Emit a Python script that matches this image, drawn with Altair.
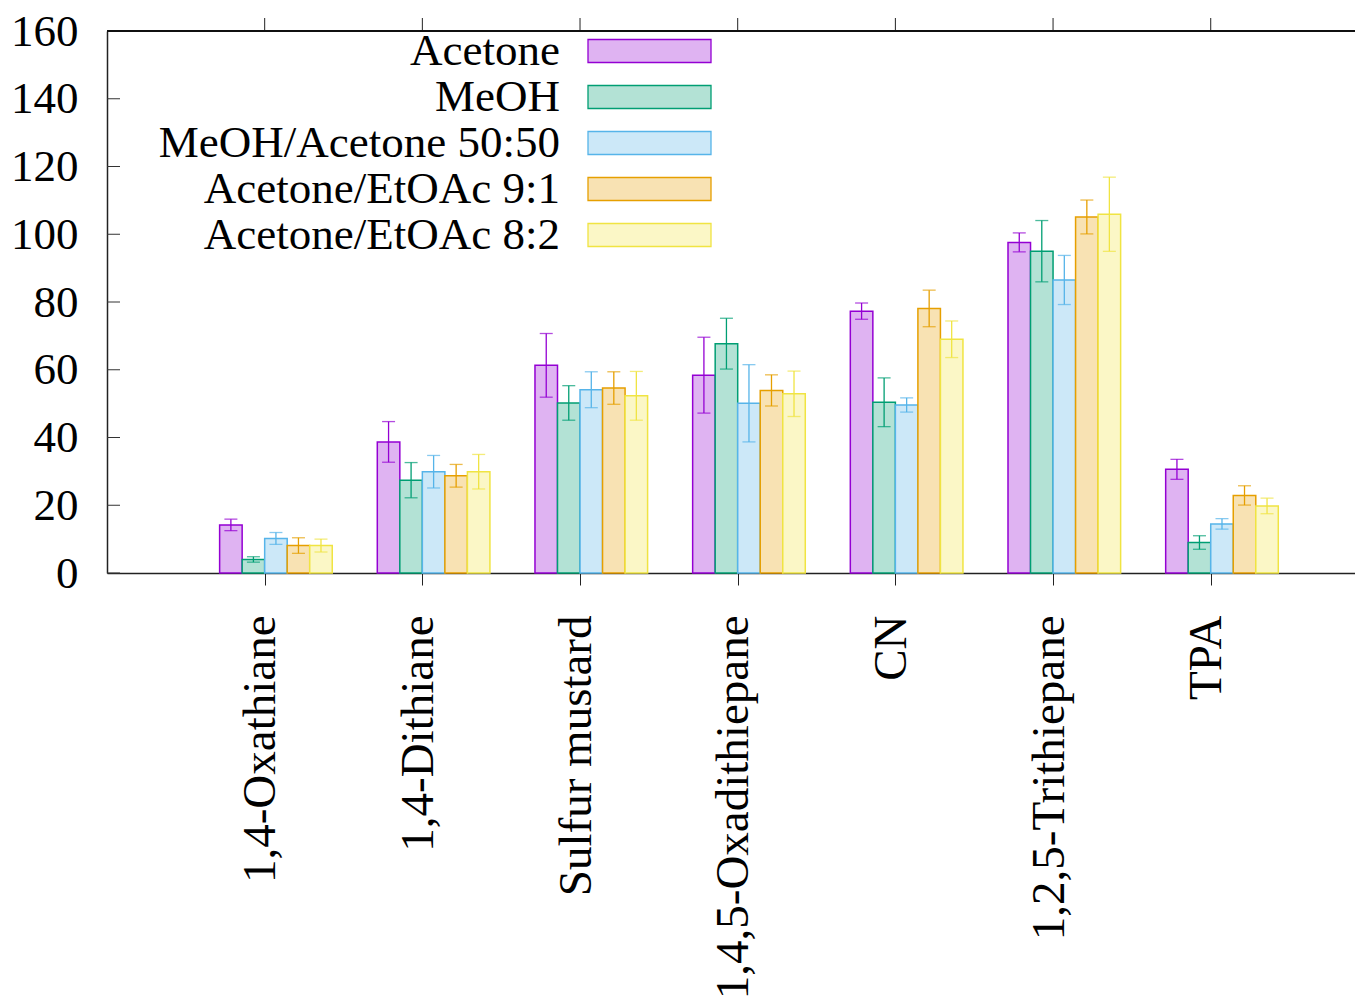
import json
import altair as alt
import pandas as pd

compounds = ["1,4-Oxathiane", "1,4-Dithiane", "Sulfur mustard", "1,4,5-Oxadithiepane",
             "CN", "1,2,5-Trithiepane", "TPA"]
series = ["Acetone", "MeOH", "MeOH/Acetone 50:50", "Acetone/EtOAc 9:1", "Acetone/EtOAc 8:2"]

acetone = [14.2, 38.7, 61.3, 58.4, 77.3, 97.6, 30.6]
acetone_err = [1.7, 6.0, 9.4, 11.2, 2.4, 2.8, 2.95]
meoh = [4.0, 27.4, 50.2, 67.7, 50.4, 95.0, 9.0]
meoh_err = [0.8, 5.2, 5.1, 7.5, 7.2, 9.05, 2.0]
blend = [10.2, 29.9, 54.1, 50.1, 49.6, 86.5, 14.5]
blend_err = [1.75, 4.8, 5.3, 11.4, 2.1, 7.25, 1.55]
ea91 = [8.1, 28.7, 54.6, 53.9, 78.1, 105.1, 22.9]
ea91_err = [2.3, 3.35, 4.8, 4.6, 5.4, 5.0, 2.85]
ea82 = [8.1, 29.9, 52.3, 52.9, 69.0, 105.9, 19.8]
ea82_err = [1.9, 5.1, 7.2, 6.7, 5.4, 10.95, 2.3]

y_ticks = [0, 20, 40, 60, 80, 100, 120, 140, 160]

strokes = ["#9400d3", "#009e73", "#56b4e9", "#e69f00", "#f0e442"]
fills = ["#dfb3f2", "#b3e2d5", "#cce8f8", "#f8e2b3", "#fbf7c6"]

FONT = "Liberation Serif"
FS_Y = 45
FS_X = 47
FS_LEG = 45
W, H = 1248, 542
BAR_W = 1 / 7

values = [acetone, meoh, blend, ea91, ea82]
errors = [acetone_err, meoh_err, blend_err, ea91_err, ea82_err]
rows = []
for k, s in enumerate(series):
    for i, c in enumerate(compounds):
        rows.append({"compound": c, "idx": i, "series": s, "k": k,
                     "value": values[k][i], "err": errors[k][i]})
df = pd.DataFrame(rows)

xscale = alt.Scale(domain=[-1, 6.915], nice=False, zero=False)
yscale = alt.Scale(domain=[0, 160], nice=False)
fill_enc = alt.Fill("series:N", scale=alt.Scale(domain=series, range=fills), legend=None)
stroke_enc = alt.Stroke("series:N", scale=alt.Scale(domain=series, range=strokes), legend=None)

base = alt.Chart(df).transform_calculate(
    x0=f"datum.idx + (datum.k - 2) * {BAR_W}",
    x1=f"datum.idx + (datum.k - 1) * {BAR_W}",
    xc=f"datum.idx + (datum.k - 1.5) * {BAR_W}",
    lo="datum.value - datum.err",
    hi="datum.value + datum.err",
    zero="0",
)

label_expr = f"{json.dumps(compounds)}[datum.value]"

bars = base.mark_rect(strokeWidth=1.5).encode(
    x=alt.X("x0:Q", scale=xscale, axis=alt.Axis(
        values=list(range(len(compounds))), labelExpr=label_expr, title=None,
        grid=False, labelAngle=270, labelAlign="right", labelBaseline="middle",
        labelFont=FONT, labelFontSize=FS_X, labelColor="black", labelPadding=30,
        labelOffset=-4, labelOverlap=False, labelFlush=False, labelBound=False,
        labelLimit=0,
        tickSize=12, tickColor="#222", tickWidth=1,
        domainColor="#222", domainWidth=1.5)),
    x2="x1:Q",
    y=alt.Y("value:Q", scale=yscale, axis=alt.Axis(
        values=y_ticks, title=None, grid=False, ticks=False,
        labelFont=FONT, labelFontSize=FS_Y, labelColor="black", labelPadding=29,
        labelFlush=False, labelOverlap=False, labelLimit=0,
        domainColor="#222", domainWidth=1.5)),
    y2="zero:Q",
    fill=fill_enc,
    stroke=stroke_enc,
)

err_rule = base.mark_rule(strokeWidth=1.3).encode(
    x=alt.X("xc:Q", scale=xscale), y=alt.Y("lo:Q", scale=yscale), y2="hi:Q",
    stroke=stroke_enc)
cap_hi = base.mark_tick(orient="horizontal", size=13, thickness=1.3).encode(
    x=alt.X("xc:Q", scale=xscale), y=alt.Y("hi:Q", scale=yscale),
    color=alt.Color("series:N", scale=alt.Scale(domain=series, range=strokes), legend=None))
cap_lo = base.mark_tick(orient="horizontal", size=13, thickness=1.3).encode(
    x=alt.X("xc:Q", scale=xscale), y=alt.Y("lo:Q", scale=yscale),
    color=alt.Color("series:N", scale=alt.Scale(domain=series, range=strokes), legend=None))

ytick_df = pd.DataFrame({"v": y_ticks})
yticks = alt.Chart(ytick_df).mark_rule(color="#333", strokeWidth=1).encode(
    y=alt.Y("v:Q", scale=yscale), x=alt.value(0), x2=alt.value(13))

xtick_df = pd.DataFrame({"idx": list(range(len(compounds)))})
topticks = alt.Chart(xtick_df).mark_rule(color="#222", strokeWidth=1).encode(
    x=alt.X("idx:Q", scale=xscale), y=alt.value(-13), y2=alt.value(0))

topborder = alt.Chart(xtick_df).mark_rule(color="#111", strokeWidth=1.5).encode(
    x=alt.value(0), x2=alt.value(W), y=alt.value(0))

main = alt.layer(bars, err_rule, cap_hi, cap_lo, yticks, topticks, topborder)

leg_df = pd.DataFrame({"series": series, "row": list(range(len(series)))})
leg_scale = alt.Scale(domain=[0, 4], range=[20, 204])
leg_base = alt.Chart(leg_df).transform_calculate(r1="datum.row - 0.25", r2="datum.row + 0.25")
leg_text = leg_base.mark_text(align="right", baseline="middle", font=FONT,
                              fontSize=FS_LEG, color="black").encode(
    x=alt.value(453), y=alt.Y("row:Q", scale=leg_scale, axis=None), text="series:N")
leg_rect = leg_base.mark_rect(strokeWidth=1.3).encode(
    x=alt.value(481), x2=alt.value(604),
    y=alt.Y("r1:Q", scale=leg_scale, axis=None), y2="r2:Q",
    fill=fill_enc, stroke=stroke_enc)
legend = alt.layer(leg_text, leg_rect)

chart = alt.layer(main, legend).resolve_scale(y="independent").properties(
    width=W, height=H,
    autosize=alt.AutoSizeParams(type="none"),
    padding={"left": 107, "top": 31, "right": 0, "bottom": 433},
    background="white",
).configure_view(strokeWidth=0)

chart.save("out.html", embed_options={"renderer": "svg", "actions": False})
